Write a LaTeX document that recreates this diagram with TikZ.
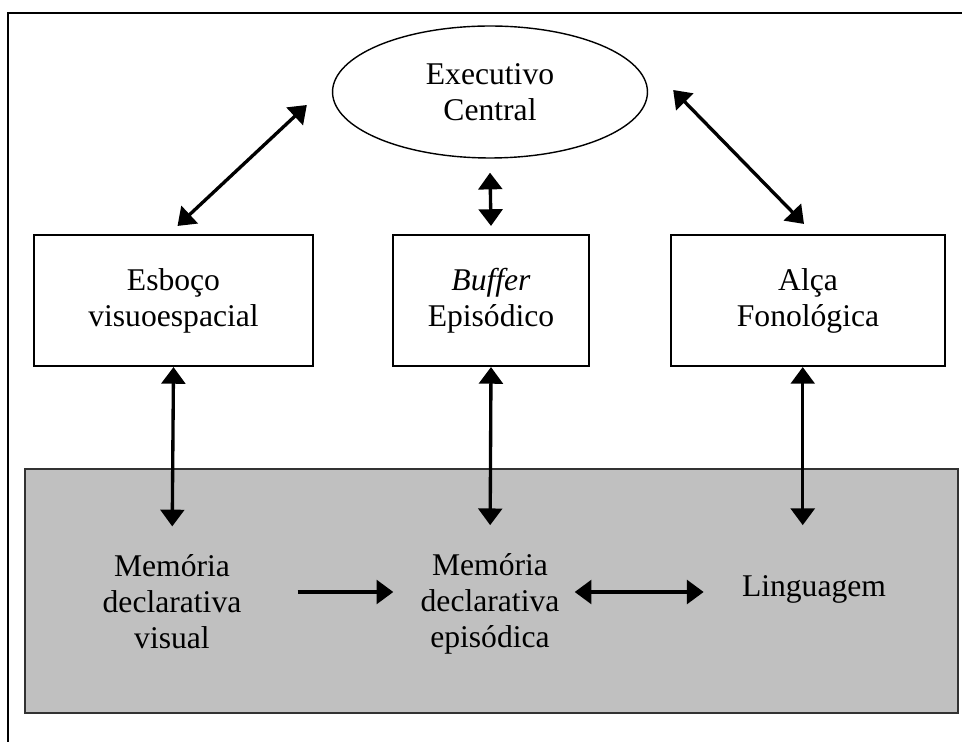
\documentclass[tikz,border=0pt]{standalone}
\usepackage{fontspec}
\setmainfont{Liberation Serif}
\usetikzlibrary{arrows.meta,shapes.geometric}

\definecolor{fundo}{RGB}{192,192,192}
\definecolor{borda}{RGB}{50,50,50}

\begin{document}
\begin{tikzpicture}[
  x=0.02cm, y=-0.02cm,
  >={Triangle[length=9.5pt,width=13.5pt]},
  central/.style={draw, ellipse, line width=0.8pt, minimum width=6.3cm,
              minimum height=2.64cm, align=center, inner sep=0pt,
              font=\fontsize{18}{20.5}\selectfont},
  box/.style={draw, line width=1.2pt, minimum height=2.62cm, align=center,
              font=\fontsize{18}{20.5}\selectfont},
  mem/.style={align=center, inner sep=0pt, font=\fontsize{18}{20.5}\selectfont},
  arr/.style={->, line width=1.9pt},
  darr/.style={<->, line width=1.9pt},
]
\useasboundingbox (0,0) rectangle (962,742);

% moldura e fundo
\draw[line width=0.8pt] (8,742) -- (8,13) -- (962,13);
\draw[borda, line width=1.3pt, fill=fundo] (25,469) rectangle (958,713);

\node[central] (exec) at (490,92) {Executivo\\Central};

\node[box, minimum width=5.58cm] (esb) at (173.5,300.5) {Esboço\\visuoespacial};
\node[box, minimum width=3.92cm] (buf) at (491,300.5) {\textit{Buffer}\\Episódico};
\node[box, minimum width=5.48cm] (alc) at (808,300.5) {Alça\\Fonológica};

\node[mem] (vis) at (172,602) {Memória\\declarativa\\visual};
\node[mem] (epi) at (490,604) {Memória\\declarativa\\episódica};
\node[mem] (ling) at (814,589) {Linguagem};

\draw[darr] ([shift={(4,-8)}]esb.north) -- ([shift={(-25,13)}]exec.west);
\draw[darr] ([shift={(0,-8)}]buf.north) -- ([shift={(0,14)}]exec.south);
\draw[darr] ([shift={(-4,-10)}]alc.north) -- ([shift={(25,-2)}]exec.east);

\draw[darr, shorten >=16pt] (esb.south) -- (vis.north);
\draw[darr, shorten >=16pt] (buf.south) -- (epi.north);
\draw[darr, shorten >=16pt] ([xshift=-3pt]alc.south) -- ([xshift=-3pt]alc.south |- epi.north);

\draw[arr] ([shift={(56,-10)}]vis.east) -- ([shift={(-27,-12)}]epi.west);
\draw[darr] ([shift={(15,-12)}]epi.east) -- ([shift={(-38,3)}]ling.west);

\end{tikzpicture}
\end{document}
